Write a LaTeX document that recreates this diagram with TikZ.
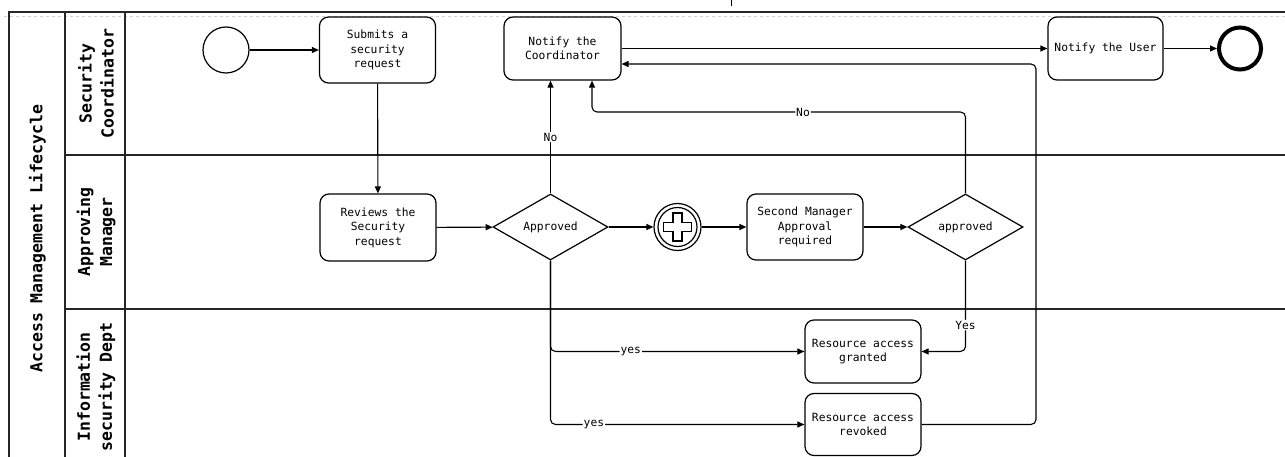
\documentclass[tikz,border=0pt]{standalone}
\usepackage{fontspec}
\newfontfamily\monof{DejaVu Sans Mono}
\usetikzlibrary{arrows.meta,shapes.geometric}
\begin{document}
\begin{tikzpicture}[x=1pt,y=-1pt,
  every node/.style={font=\monof\fontsize{11.3}{14.5}\selectfont},
  task/.style={draw,line width=1.2pt,rounded corners=9pt,minimum width=116pt,minimum height=64pt,inner sep=0pt,align=center},
  gate/.style={draw,line width=1.2pt,shape=diamond,aspect=1.74,minimum width=115pt,minimum height=66pt,inner sep=0pt},
  lanelbl/.style={rotate=90,align=center,font=\monof\bfseries\fontsize{16.5}{22}\selectfont},
  flow/.style={line width=1.1pt,-{Triangle[length=7pt,width=6pt]}},
  lbl/.style={fill=white,inner sep=1pt},
  border/.style={line width=1.3pt,draw=black!85}]
\useasboundingbox (0,0) rectangle (1285,457);

% pool frame and lanes
\draw[gray!35,dashed,line width=0.6pt] (4,16) -- (1285,16);
\draw[border] (9,470) -- (9,12) -- (1285,12);
\draw[border] (65,12) -- (65,470);
\draw[border] (125,12) -- (125,470);
\draw[border] (65,155) -- (1285,155);
\draw[border] (65,309) -- (1285,309);
\draw[line width=1pt] (731,0) -- (731,6);

\node[lanelbl] (pool) at (37.5,238.5) {Access Management Lifecycle};
\node[lanelbl] (lane1) at (96,83.5) {Security\\Coordinator};
\node[lanelbl] (lane2) at (96,232) {Approving\\Manager};
\node[lanelbl] (lane3) at (96,387) {Information\\security Dept};

% events
\node[draw,circle,line width=1.2pt,minimum size=46pt,inner sep=0pt] (start) at (226,50) {};
\node[draw,circle,line width=4pt,minimum size=42pt,inner sep=0pt] (end) at (1240,48.5) {};

% tasks
\node[task,minimum height=66pt] (submit) at (377.5,50) {Submits a\\security\\request};
\node[task,minimum width=117pt,minimum height=63pt] (notifyC) at (562.5,48.5) {Notify the\\Coordinator};
\node[task,minimum width=115pt,minimum height=63pt] (notifyU) at (1105.5,48.5) {Notify the User};
\node[task,minimum height=67pt] (review) at (378,227.5) {Reviews the\\Security\\request};
\node[task,minimum height=66pt] (second) at (805,227) {Second Manager\\Approval\\required};
\node[task,minimum height=63pt] (granted) at (863,351.5) {Resource access\\granted};
\node[task,minimum height=62pt] (revoked) at (863,424.5) {Resource access\\revoked};

% gateways
\node[gate] (appr1) at (550.5,227) {Approved};
\node[gate] (appr2) at (965.5,227) {approved};
\node[draw,circle,line width=1.2pt,minimum size=47pt,inner sep=0pt] (par) at (677.5,227) {};
\draw[line width=1.2pt] (par.center) circle[radius=19.5pt];
\draw[line width=1.2pt] (par.center)
  ++(-4.5,-14) -- ++(9,0) -- ++(0,9.5) -- ++(9.5,0) -- ++(0,9) -- ++(-9.5,0)
  -- ++(0,9.5) -- ++(-9,0) -- ++(0,-9.5) -- ++(-9.5,0) -- ++(0,-9) -- ++(9.5,0) -- cycle;

% turning points
\coordinate (noTurn) at (592,112);
\coordinate (yesA) at (550.5,351.5);
\coordinate (yesB) at (550.5,424.5);
\coordinate (yesC) at (965.5,351.5);
\coordinate (backA) at (1036,424.5);
\coordinate (backB) at (1036,64);

% sequence flows
\draw[flow] (start) -- (submit);
\draw[flow] (submit) -- (review);
\draw[flow] (review) -- (appr1);
\draw[flow] (appr1) -- (par);
\draw[flow] (par) -- (second);
\draw[flow] (second) -- (appr2);
\draw[flow] (appr1.north) -- node[lbl,pos=0.5]{No} (appr1.north |- notifyC.south);
\draw[flow,rounded corners=5pt] (appr2.north) -- (appr2.north |- noTurn)
  -- node[lbl,pos=0.435]{No} (noTurn) -- (noTurn |- notifyC.south);
\draw[flow,rounded corners=5pt] (appr1.south) -- (yesA)
  -- node[lbl,pos=0.316]{yes} (granted.west);
\draw[flow,rounded corners=5pt] (appr1.south) -- (yesB)
  -- node[lbl,pos=0.171]{yes} (revoked.west);
\draw[flow,rounded corners=5pt] (appr2.south) -- node[lbl,pos=0.71]{Yes} (yesC) -- (granted.east);
\draw[flow,rounded corners=5pt] (revoked.east) -- (backA) -- (backB) -- (backB -| notifyC.east);
\draw[flow] (notifyC.east) -- (notifyU.west);
\draw[flow] (notifyU) -- (end);
\end{tikzpicture}
\end{document}
